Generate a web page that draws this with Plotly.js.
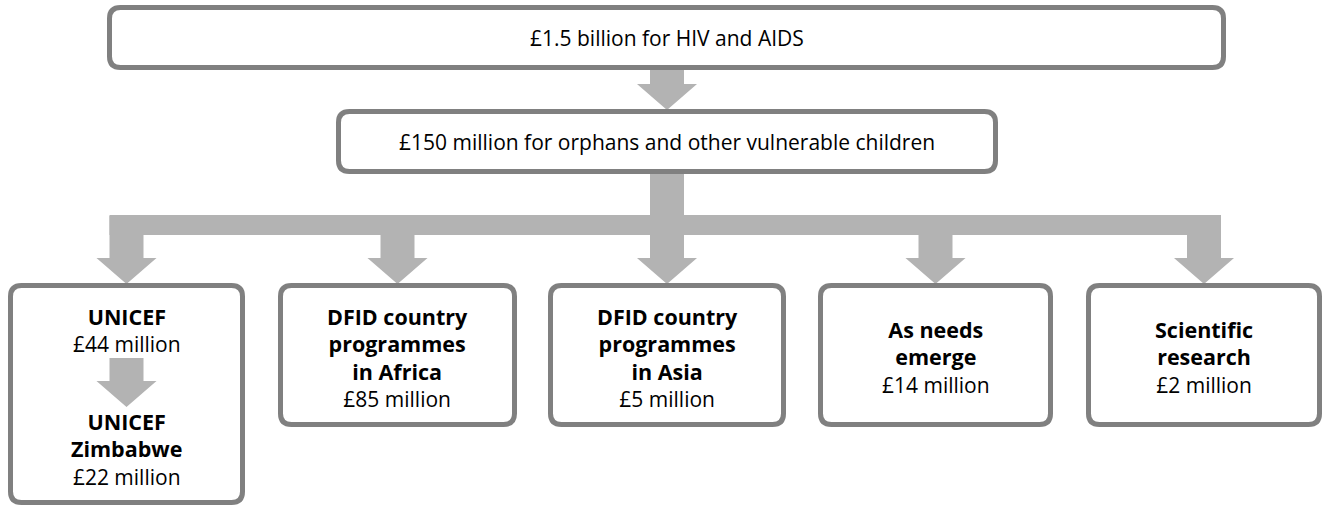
<!DOCTYPE html>
<html>
<head>
<meta charset="utf-8">
<script src="https://cdn.plot.ly/plotly-3.0.1.min.js"></script>
<style>html,body{margin:0;padding:0;background:#fff;}#chart{width:1328px;height:506px;}</style>
</head>
<body>
<div id="chart"></div>
<script>
// ---- data ----
const topLabel = "£1.5 billion for HIV and AIDS";
const midLabel = "£150 million for orphans and other vulnerable children";
const recipients = [["UNICEF"], ["DFID country", "programmes", "in Africa"], ["DFID country", "programmes", "in Asia"], ["As needs", "emerge"], ["Scientific", "research"]];
const amountsMillion = [44, 85, 5, 14, 2];
const subRecipient = ["UNICEF", "Zimbabwe"];
const subAmountMillion = 22;

// ---- layout geometry (pixels in a 1328x506 frame) ----
const W = 1328, H = 506;
const BORDER = "#808080", ARROW = "#b3b3b3", LW = 5, R = 11;
const topBox = {x0:107, x1:1226, y0:5, y1:70, ty:38};
const midBox = {x0:336, x1:998, y0:109, y1:174, ty:142};
const boxX = [[8,245],[278,517],[548,786],[818,1053],[1086,1322]];
const boxY0 = 283, boxY1 = 427, box1Y1 = 505;
const textY = [330, 357, 357, 357, 357];
const subTextY = 449;
const shaftW = 34, headW = 60, headH = 26;
const barY0 = 215, barY1 = 235;

function roundRect(x0,y0,x1,y1,r){
  const h = LW/2; x0+=h; y0+=h; x1-=h; y1-=h;
  return `M${x0+r},${y0} L${x1-r},${y0} Q${x1},${y0} ${x1},${y0+r} L${x1},${y1-r} Q${x1},${y1} ${x1-r},${y1} L${x0+r},${y1} Q${x0},${y1} ${x0},${y1-r} L${x0},${y0+r} Q${x0},${y0} ${x0+r},${y0} Z`;
}
function arrow(cx, yTop, yTip){
  const yh = yTip - headH, s = shaftW/2, hw = headW/2;
  return `M${cx-s},${yTop} L${cx+s},${yTop} L${cx+s},${yh} L${cx+hw},${yh} L${cx},${yTip} L${cx-hw},${yh} L${cx-s},${yh} Z`;
}
function boxShape(x0,y0,x1,y1){
  return {type:'path', xref:'x', yref:'y', path:roundRect(x0,y0,x1,y1,R), fillcolor:'#ffffff', line:{color:BORDER, width:LW}, layer:'above'};
}
function arrowShape(path){
  return {type:'path', xref:'x', yref:'y', path:path, fillcolor:ARROW, line:{width:0}, layer:'below'};
}

const centers = boxX.map(b => (b[0]+b[1])/2);
const shapes = [];
const midCx = (midBox.x0+midBox.x1)/2;
shapes.push(arrowShape(arrow(midCx, topBox.y1-2, midBox.y0+1)));
shapes.push(arrowShape(`M${centers[0]-shaftW/2},${barY0} L${centers[4]+shaftW/2},${barY0} L${centers[4]+shaftW/2},${barY1} L${centers[0]-shaftW/2},${barY1} Z`));
shapes.push(arrowShape(arrow(midCx, midBox.y1-2, boxY0+1)));
centers.forEach((cx,i) => { if (Math.abs(cx-midCx) > 5) shapes.push(arrowShape(arrow(cx, barY0+1, boxY0+1))); });
shapes.push(boxShape(topBox.x0, topBox.y0, topBox.x1, topBox.y1));
shapes.push(boxShape(midBox.x0, midBox.y0, midBox.x1, midBox.y1));
boxX.forEach((b,i) => shapes.push(boxShape(b[0], boxY0, b[1], i===0 ? box1Y1 : boxY1)));
const inner = arrowShape(arrow(centers[0], 358, 407)); inner.layer = 'above';
shapes.push(inner);

const FONT = "'Open Sans', Lato, sans-serif";
const annotations = [];
function ann(x, y, text){
  annotations.push({x:x, y:y, xref:'x', yref:'y', text:text, showarrow:false, xanchor:'center', yanchor:'middle', align:'center', font:{family:FONT, size:21, color:'#000'}});
}
function bold(lines){ return lines.map(l => `<span style="font-size:21.5px"><b>${l}</b></span>`).join('<br>'); }
ann((topBox.x0+topBox.x1)/2, topBox.ty, topLabel);
ann(midCx, midBox.ty, midLabel);
recipients.forEach((r,i) => ann(centers[i], textY[i], `${bold(r)}<br>£${amountsMillion[i]} million`));
ann(centers[0], subTextY, `${bold(subRecipient)}<br>£${subAmountMillion} million`);

Plotly.newPlot('chart', [], {
  width: W, height: H,
  margin: {l:0, r:0, t:0, b:0, pad:0},
  paper_bgcolor: '#fff', plot_bgcolor: '#fff',
  xaxis: {range:[0,W], visible:false, fixedrange:true},
  yaxis: {range:[H,0], visible:false, fixedrange:true},
  showlegend: false,
  shapes: shapes,
  annotations: annotations
}, {staticPlot:true});
</script>
</body>
</html>
